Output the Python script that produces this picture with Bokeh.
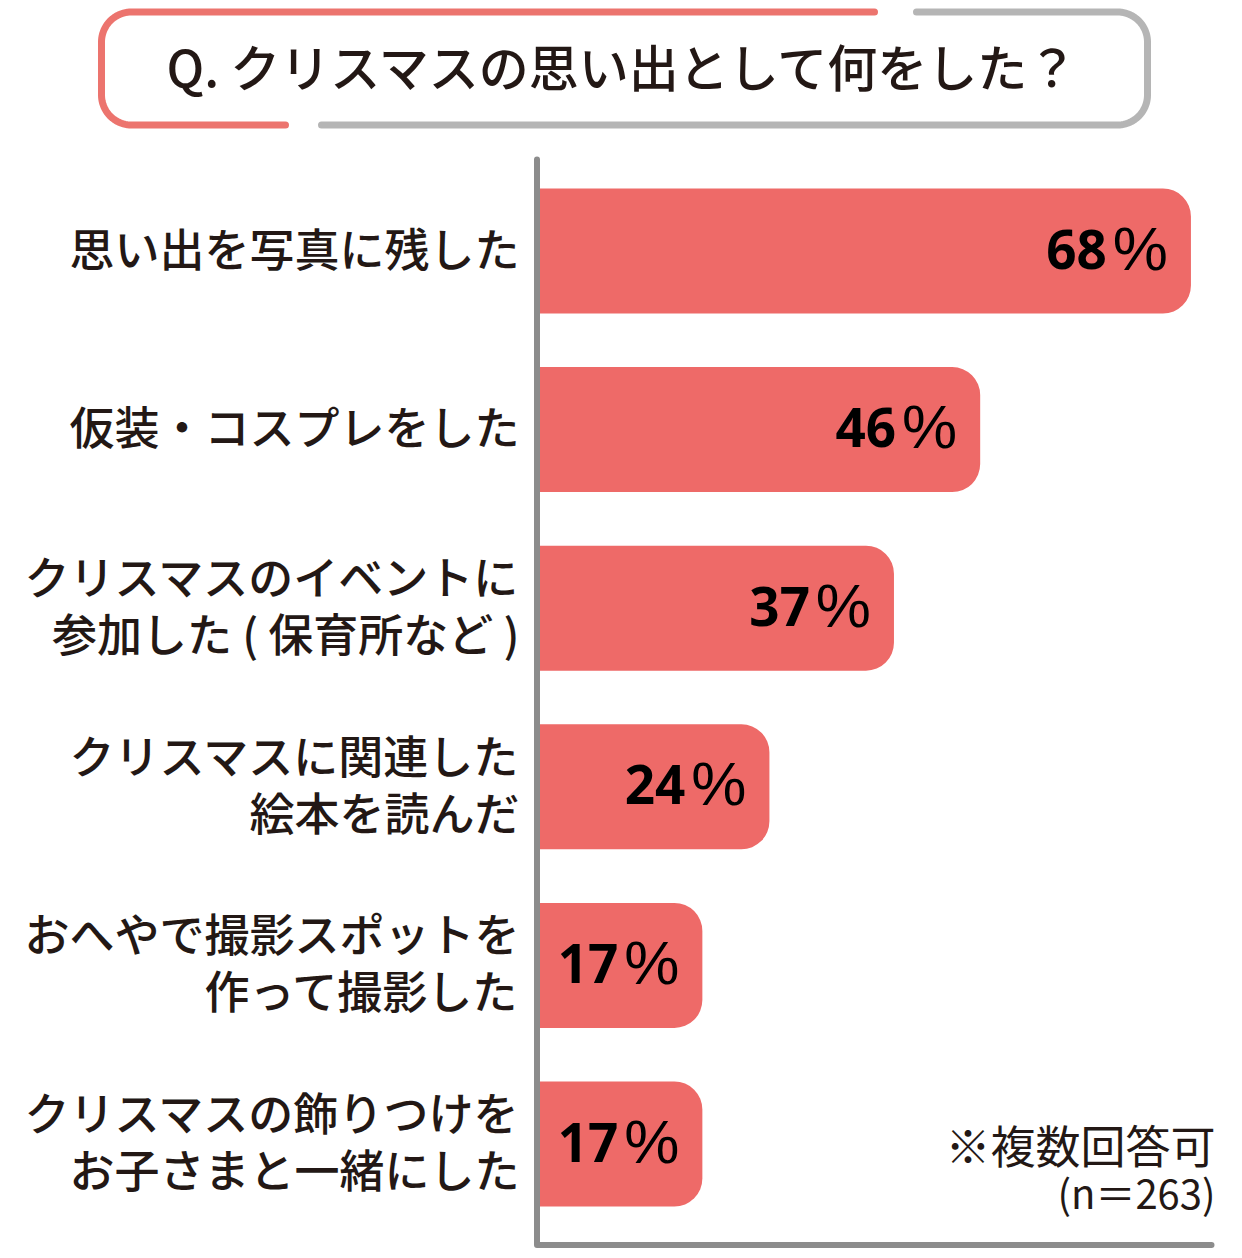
# plot.py
# Bar chart of what families did for their Christmas memories

# ========
# SETTINGS
# ========

# Libraries
import numpy as np
from bokeh.core.properties import value
from bokeh.embed import file_html
from bokeh.models import ColumnDataSource, Range1d
from bokeh.plotting import figure
from bokeh.resources import INLINE

# Data
title_text = 'Q. クリスマスの思い出として何をした？'
categories = [
	'思い出を写真に残した',
	'仮装・コスプレをした',
	'クリスマスのイベントに\n参加した ( 保育所など )',
	'クリスマスに関連した\n絵本を読んだ',
	'おへやで撮影スポットを\n作って撮影した',
	'クリスマスの飾りつけを\nお子さまと一緒にした',
]
percent = [68, 46, 37, 24, 17, 17]
note_top = '※複数回答可'
note_bottom = '(n＝263)'

# Styles
FONT = value('Noto Sans CJK JP Medium')
NOTE = value('Noto Sans CJK JP')
LATIN = value('Noto Sans')
SIGN = value('Liberation Sans')
INK = '#231815'
BAR = '#ee6a68'
RED = '#ec746e'
GREY = '#b5b5b5'
AXIS = '#8c8c8c'
WIDTH = 1226
HEIGHT = 1250

# ========
# HELPERS
# ========

def corner(cx, cy, r, start, stop):
	'''Points along a rounded corner of the title box'''
	a = np.radians(np.linspace(start, stop, 24))
	return list(cx + r * np.cos(a)), list(cy + r * np.sin(a))

# ====
# MAIN
# ====

# 9.58px per percent from x=539, 178.6px per bar from y=250.5
p = figure(
	width=WIDTH, height=HEIGHT,
	x_range=Range1d(-539 / 9.58, (WIDTH - 539) / 9.58),
	y_range=Range1d((HEIGHT - 250.5) / 178.6, -250.5 / 178.6),
	output_backend='svg', toolbar_location=None,
	x_axis_location=None, y_axis_location=None,
	min_border=0, outline_line_color=None, border_fill_color='white',
)
p.grid.visible = False

# Pixel ranges for the decoration around the chart
p.extra_x_ranges = {'px': Range1d(0, WIDTH)}
p.extra_y_ranges = {'px': Range1d(HEIGHT, 0)}

# Bars
index = list(range(len(categories)))
p.hbar(y=index, left=0, right=percent, height=0.70, fill_color=BAR, line_color=None,
	border_radius=(0, 28, 28, 0))

# Axis lines
p.line([536.5, 536.5, 1211], [159, 1244.5, 1244.5], x_range_name='px', y_range_name='px',
	line_color=AXIS, line_width=6, line_cap='round', line_join='round')

# Title box, red half
x0, y0 = corner(131, 41.5, 30, 180, 270)
x1, y1 = corner(131, 94.5, 30, 90, 180)
p.line([285] + x1 + x0 + [874], [124.5] + y1 + y0 + [11.5], x_range_name='px', y_range_name='px',
	line_color=RED, line_width=7, line_cap='round')

# Title box, grey half
x0, y0 = corner(1117, 41.5, 30, 270, 360)
x1, y1 = corner(1117, 94.5, 30, 0, 90)
p.line([916] + x0 + x1 + [321], [11.5] + y0 + y1 + [124.5], x_range_name='px', y_range_name='px',
	line_color=GREY, line_width=7, line_cap='round')

# Title text
p.text([166], [64], text=[title_text], x_range_name='px', y_range_name='px',
	text_font=FONT, text_font_size='50px', text_color=INK,
	text_align='left', text_baseline='middle')

# Category labels
label_y = []
label_text = []
line_gap = 57 / 178.6
for i, category in zip(index, categories):
	lines = category.split('\n')
	for j, line in enumerate(lines):
		label_y.append(i + (j - (len(lines) - 1) / 2) * line_gap)
		label_text.append(line)
p.text(x=0, y=label_y, text=label_text, x_offset=-20, y_offset=-4,
	text_font=FONT, text_font_size='45px', text_color=INK,
	text_align='right', text_baseline='middle')

# Value labels, digits are bold and the percent sign is light
source = ColumnDataSource(dict(
	y=index,
	x=percent,
	digits=[str(v) for v in percent],
	sign=['%' for v in percent],
))
p.text(x='x', y='y', text='digits', source=source, x_offset=-84, y_offset=-2,
	text_font=LATIN, text_font_style='bold', text_font_size='53px', text_color='black',
	text_align='right', text_baseline='alphabetic')
p.text(x='x', y='y', text='sign', source=source, x_offset=-23, y_offset=-3,
	text_font=SIGN, text_font_size='62px', text_color='black',
	text_align='right', text_baseline='alphabetic')

# Note in the bottom right corner
p.text([1215], [1144], text=[note_top], x_range_name='px', y_range_name='px',
	text_font=NOTE, text_font_size='45px', text_color=INK,
	text_align='right', text_baseline='middle')
p.text([1215], [1191], text=[note_bottom], x_range_name='px', y_range_name='px',
	text_font=NOTE, text_font_size='40px', text_color=INK,
	text_align='right', text_baseline='middle')

# Save
open('out.html', 'w').write(file_html(p, INLINE))
